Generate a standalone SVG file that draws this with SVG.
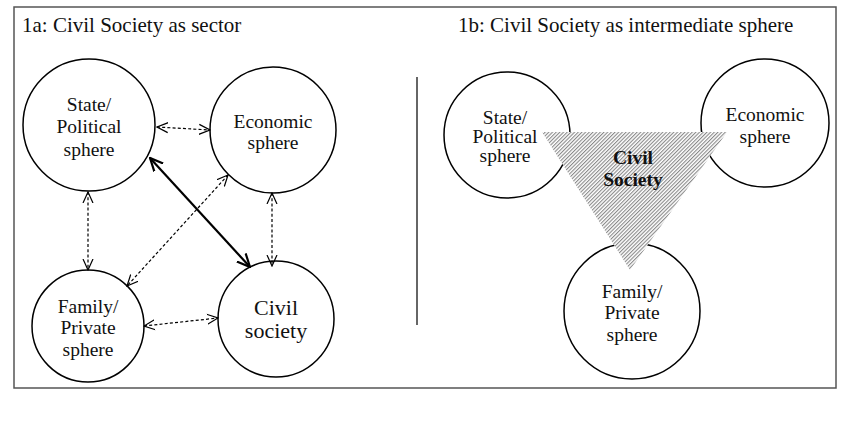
<svg xmlns="http://www.w3.org/2000/svg" width="850" height="423" viewBox="0 0 850 423">
<style>
.c{fill:#fff;stroke:#000;stroke-width:1.5}
text{font-family:'Liberation Serif','Tinos','Nimbus Roman','FreeSerif','Noto Serif','DejaVu Serif','Times New Roman',serif;fill:#111;text-anchor:middle}
.n{font-size:19.5px}
.d{fill:none;stroke:#000;stroke-width:1.2;stroke-dasharray:3 2.2;marker-start:url(#oa);marker-end:url(#oa)}
.s{fill:none;stroke:#000;stroke-width:2.2;marker-start:url(#ob);marker-end:url(#ob)}
</style>
<defs>
<marker id="oa" viewBox="0 0 12 12" refX="11" refY="6" markerWidth="12" markerHeight="12" markerUnits="userSpaceOnUse" orient="auto-start-reverse">
<path d="M0,1 L11,6 L0,11" fill="none" stroke="#000" stroke-width="1.2"/>
</marker>
<marker id="ob" viewBox="0 0 14 14" refX="13" refY="7" markerWidth="14" markerHeight="14" markerUnits="userSpaceOnUse" orient="auto-start-reverse">
<path d="M0,1 L13,7 L0,13" fill="none" stroke="#000" stroke-width="2.2"/>
</marker>
<pattern id="hatch" width="2.6" height="2.6" patternUnits="userSpaceOnUse" patternTransform="rotate(45)">
<rect width="2.6" height="2.6" fill="#fff"/>
<line x1="0.6" y1="0" x2="0.6" y2="2.6" stroke="#707070" stroke-width="0.9"/>
</pattern>
</defs>
<rect x="0" y="0" width="850" height="423" fill="#fff"/>
<rect id="frame" x="14" y="7" width="822" height="381" fill="none" stroke="#555" stroke-width="1.5"/>
<line id="divider" x1="417" y1="77" x2="417" y2="325" stroke="#333" stroke-width="1.5"/>
<text id="title-1a" x="22" y="32" font-size="21" style="text-anchor:start">1a: Civil Society as sector</text>
<text id="title-1b" x="458" y="32" font-size="21" style="text-anchor:start">1b: Civil Society as intermediate sphere</text>

<g id="a-state"><circle class="c" cx="89" cy="125" r="66"/>
<text class="n" x="89" y="111">State/</text><text class="n" x="89" y="133">Political</text><text class="n" x="89" y="156">sphere</text></g>
<g id="a-economic"><circle class="c" cx="273" cy="130" r="63"/>
<text class="n" x="273" y="128">Economic</text><text class="n" x="273" y="149">sphere</text></g>
<g id="a-family"><circle class="c" cx="88" cy="326" r="56"/>
<text class="n" x="88" y="313">Family/</text><text class="n" x="88" y="334">Private</text><text class="n" x="88" y="356">sphere</text></g>
<g id="a-civil"><circle class="c" cx="276" cy="319" r="58"/>
<text font-size="22" x="276" y="315">Civil</text><text font-size="22" x="276" y="338">society</text></g>

<g id="connectors">
<line class="d" x1="157" y1="127" x2="210" y2="130"/>
<line class="s" x1="150" y1="158" x2="250" y2="267"/>
<line class="d" x1="88" y1="192" x2="88" y2="270"/>
<line class="d" x1="272" y1="193" x2="272" y2="266"/>
<line class="d" x1="228" y1="175" x2="127" y2="286"/>
<line class="d" x1="144" y1="326" x2="218" y2="318"/>
</g>

<g id="b-state"><circle class="c" cx="507" cy="135" r="63"/>
<text class="n" x="505" y="124">State/</text><text class="n" x="505" y="143">Political</text><text class="n" x="505" y="162">sphere</text></g>
<g id="b-economic"><circle class="c" cx="765" cy="123" r="64"/>
<text class="n" x="765" y="121">Economic</text><text class="n" x="765" y="143">sphere</text></g>
<g id="b-family"><circle class="c" cx="632" cy="311" r="68"/>
<text class="n" x="632" y="298">Family/</text><text class="n" x="632" y="319">Private</text><text class="n" x="632" y="341">sphere</text></g>
<g id="b-civil"><polygon points="542,132 727,132 630,270" fill="url(#hatch)"/>
<text font-size="19.5" font-weight="bold" x="633" y="164">Civil</text><text font-size="19.5" font-weight="bold" x="633" y="186">Society</text></g>
</svg>
